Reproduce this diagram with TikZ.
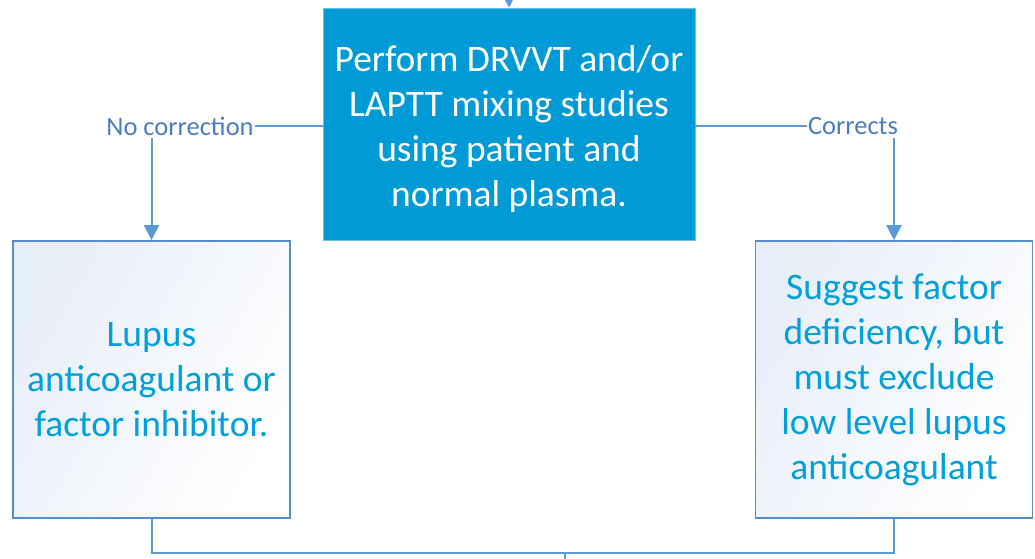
\documentclass[tikz,border=0pt]{standalone}
\usepackage{fontspec}
\setmainfont{Carlito}
\usetikzlibrary{arrows.meta,calc}
\definecolor{mainfill}{RGB}{0,155,214}
\definecolor{linec}{RGB}{91,155,213}
\definecolor{boxline}{RGB}{84,141,200}
\definecolor{sidetext}{RGB}{0,160,220}
\definecolor{labeltext}{RGB}{75,125,190}
\definecolor{shadec}{RGB}{232,238,248}
\tikzset{
  mainbox/.style={fill=mainfill, draw=mainfill!60!white, line width=0.6pt, text=white,
    minimum width=372pt, minimum height=232pt, align=center, inner sep=0pt,
    font=\fontsize{37.5}{45}\selectfont},
  sidebox/.style={draw=boxline, line width=1.6pt, left color=shadec, right color=white, shading angle=60,
    text=sidetext, minimum width=277pt, minimum height=277pt, align=center, inner sep=0pt,
    font=\fontsize{37.5}{45}\selectfont},
  lbl/.style={text=labeltext, font=\fontsize{26.5}{30}\selectfont, inner sep=1pt},
  conn/.style={draw=linec, line width=2pt},
  arr/.style={conn, -{Triangle[width=15pt,length=15pt]}},
}
\begin{document}
\begin{tikzpicture}[x=1pt,y=-1pt]
\useasboundingbox (0,0) rectangle (1035,558);
\node[mainbox] (top) at (509,124) {\rule{0pt}{37pt}Perform DRVVT and/or\\LAPTT mixing studies\\using patient and\\normal plasma.};
\node[sidebox] (L) at (151.5,379.5) {Lupus\\anticoagulant or\\factor inhibitor.};
\node[sidebox] (R) at (894,379.5) {Suggest factor\\deficiency, but\\must exclude\\low level lupus\\anticoagulant};
\node[lbl] (nc) at (180,126) {No correction};
\node[lbl] (co) at (853,126) {Corrects};
\coordinate (t) at (509,-20);
\coordinate (m) at (565,553);
\coordinate (b) at (565,570);
\draw[arr] (t) -- (top.north);
\draw[conn] (top.west |- nc.east) -- (nc.east);
\draw[conn] (top.east |- co.west) -- (co.west);
\draw[arr] ($(L.north |- nc.south)+(0,2)$) -- (L.north);
\draw[arr] ($(R.north |- co.south)+(0,2)$) -- (R.north);
\draw[conn] (L.south) |- (m) -| (R.south);
\draw[conn] (m) -- (b);
\end{tikzpicture}
\end{document}
